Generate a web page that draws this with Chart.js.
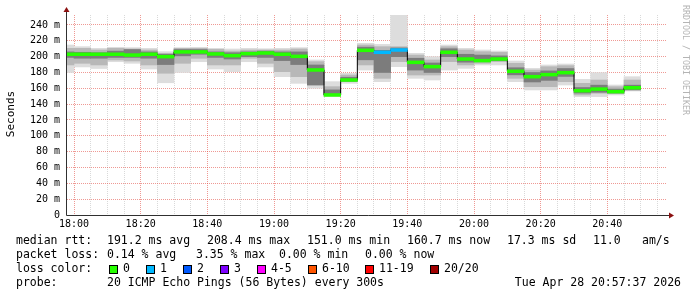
<!DOCTYPE html>
<html>
<head>
<meta charset="utf-8">
<script src="https://cdn.jsdelivr.net/npm/chart.js@4.4.1/dist/chart.umd.min.js"></script>
<style>
  html, body { margin: 0; padding: 0; background: #fff; }
</style>
</head>
<body>
<canvas id="smoke" width="697" height="297"></canvas>
<script>
// 5 minute steps (start time of each step), values in ms
const stepTimes = ['17:55', '18:00', '18:05', '18:10', '18:15', '18:20', '18:25', '18:30', '18:35', '18:40',
  '18:45', '18:50', '18:55', '19:00', '19:05', '19:10', '19:15', '19:20', '19:25', '19:30',
  '19:35', '19:40', '19:45', '19:50', '19:55', '20:00', '20:05', '20:10', '20:15', '20:20',
  '20:25', '20:30', '20:35', '20:40', '20:45'];
const medianMs = [203, 203, 203, 203, 202, 203, 200, 206, 206, 203.4,
  201.3, 203.8, 204.6, 203, 200.4, 183.2, 151.6, 170.5, 208, 205.5,
  208.4, 192.8, 187.4, 205.5, 197, 195, 197, 181.5, 174.7, 177.3,
  179.8, 157, 159, 155.8, 160.7];
const maxMs = [214.7, 212.6, 210.5, 211.8, 211.4, 210.5, 206.3, 211.4, 211.8, 210.5,
  209.7, 210.5, 210, 210.5, 211.4, 195.8, 168.4, 178.9, 216.8, 215.5,
  258, 204.2, 200, 214.7, 210.5, 208.4, 207.1, 194.5, 185.2, 189.5,
  190.7, 171.3, 179.8, 164.2, 174.7];
const hiMs = [210.5, 210.5, 208.4, 210.5, 209.7, 208.4, 204.2, 210.5, 210.5, 209.2,
  207.1, 208.4, 208.4, 208.4, 209.7, 193.7, 162.1, 176.8, 214.7, 212.6,
  212.6, 202, 195.8, 212.6, 208.4, 206.3, 205.4, 191.6, 183.1, 187.3,
  188.6, 166.3, 170.5, 162.1, 170.5];
const coreHiMs = [206, 205.5, 205, 207, 209, 206, 203, 209, 209, 206,
  205, 206, 207, 206, 206, 189.5, 158, 174, 212, 208,
  211, 198, 192, 210, 203, 202, 201, 186, 180, 182,
  185, 161, 164, 159, 164];
const coreLoMs = [199, 198, 198, 199, 199, 198, 190, 201, 203, 199,
  197, 200, 199, 195, 190, 164.2, 151, 169, 196, 180,
  200, 183, 180, 200, 193, 194, 195, 177, 168, 170,
  175, 154, 155, 154, 158];
const loMs = [189.5, 191.6, 189.5, 195.8, 194.5, 189.5, 179, 191.6, 197.9, 189.5,
  189.5, 197.9, 191.6, 181, 174.7, 164.2, 151.6, 168.4, 189.5, 172.6,
  193.7, 176.8, 176.8, 193.7, 189.5, 191.6, 193.7, 172.6, 162.1, 162.1,
  168.4, 151.6, 153.7, 153.7, 157.9];
const minMs = [180, 187, 185, 193.6, 191.6, 184.4, 167, 180, 193.6, 184.4,
  181, 193.6, 187, 174.7, 166.3, 160, 149.5, 166.3, 183.1, 168.4,
  187.3, 172.6, 170.5, 183.1, 185.2, 189.5, 189.5, 168.4, 157.9, 157.9,
  164.2, 149.5, 149.5, 151.6, 156.6];
// lost pings out of 20 per step
const lostPings = [0, 0, 0, 0, 0, 0, 0, 0, 0, 0,
  0, 0, 0, 0, 0, 0, 0, 0, 0, 1,
  1, 0, 0, 0, 0, 0, 0, 0, 0, 0,
  0, 0, 0, 0, 0];

const xTickLabels = ['18:00', '18:20', '18:40', '19:00', '19:20', '19:40', '20:00', '20:20', '20:40'];
const lossLabels = ['0', '1', '2', '3', '4-5', '6-10', '11-19', '20/20'];
const lossColors = ['#26ff00', '#00b8ff', '#0059ff', '#7e00ff', '#ff00ff', '#ff5500', '#ff0000', '#a10000'];

const X_MIN = -2.1, X_MAX = 177.9;   // minutes after 18:00
const Y_MAX = 252.6;
const MEDIAN_HALF = 1.8;
const MONO = '"DejaVu Sans Mono", monospace';

const toMin = t => { const [h, m] = t.split(':').map(Number); return (h - 18) * 60 + m; };
const stepMid = stepTimes.map(t => toMin(t) + 2.5);
const lossColor = n => lossColors[n === 0 ? 0 : n === 1 ? 1 : n === 2 ? 2 : n === 3 ? 3 : n <= 5 ? 4 : n <= 10 ? 5 : n < 20 ? 6 : 7];

function band(lo, hi, color, order) {
  return {
    type: 'bar',
    data: stepMid.map((x, i) => ({ x: x, y: [lo[i], hi[i]] })),
    backgroundColor: color,
    borderWidth: 0,
    grouped: false,
    barPercentage: 1,
    categoryPercentage: 1,
    order: order
  };
}

const datasets = [
  band(minMs, maxMs, '#dddddd', 10),
  band(loMs, hiMs, '#b8b8b8', 9),
  band(coreLoMs, coreHiMs, '#7c7c7c', 8),
  {
    type: 'line',
    data: stepMid.map((x, i) => ({ x: x, y: medianMs[i] })),
    stepped: 'middle',
    borderColor: '#000',
    borderWidth: 1,
    pointRadius: 0,
    fill: false,
    order: 2
  },
  {
    type: 'bar',
    data: stepMid.map((x, i) => ({ x: x, y: [medianMs[i] - MEDIAN_HALF, medianMs[i] + MEDIAN_HALF] })),
    backgroundColor: lostPings.map(lossColor),
    borderWidth: 0,
    grouped: false,
    barPercentage: 1,
    categoryPercentage: 1,
    order: 1
  }
];

const minorGrid = 'rgba(160,160,160,0.4)';
const majorGrid = 'rgba(225,70,60,0.55)';

const legendLines = [
  [['median rtt:', 16], ['191.2 ms avg', 107], ['208.4 ms max', 207], ['151.0 ms min', 307],
   ['160.7 ms now', 407], ['17.3 ms sd', 507], ['11.0', 593], ['am/s', 642]],
  [['packet loss:', 16], ['0.14 % avg', 107], ['3.35 % max', 196], ['0.00 % min', 279], ['0.00 % now', 365]],
  [['loss color:', 16]],
  [['probe:', 16], ['20 ICMP Echo Pings (56 Bytes) every 300s', 107]]
];
const lossBoxX = [109, 146, 183, 220, 257, 308, 365, 430];

const decorations = {
  id: 'decorations',
  afterDraw(chart) {
    const ctx = chart.ctx;
    const a = chart.chartArea;
    ctx.save();
    // axes + arrows
    ctx.strokeStyle = '#303030';
    ctx.lineWidth = 1;
    ctx.beginPath();
    ctx.moveTo(a.left - 0.5, a.bottom + 0.5);
    ctx.lineTo(a.right + 3, a.bottom + 0.5);
    ctx.moveTo(a.left - 0.5, a.bottom + 0.5);
    ctx.lineTo(a.left - 0.5, a.top - 4);
    ctx.stroke();
    ctx.fillStyle = '#8b1010';
    ctx.beginPath();
    ctx.moveTo(a.right + 7, a.bottom + 0.5);
    ctx.lineTo(a.right + 2, a.bottom - 2.5);
    ctx.lineTo(a.right + 2, a.bottom + 3.5);
    ctx.closePath();
    ctx.fill();
    ctx.beginPath();
    ctx.moveTo(a.left - 0.5, a.top - 8);
    ctx.lineTo(a.left - 3.5, a.top - 3);
    ctx.lineTo(a.left + 2.5, a.top - 3);
    ctx.closePath();
    ctx.fill();

    // y axis title
    ctx.fillStyle = '#000';
    ctx.font = '11px ' + MONO;
    ctx.textAlign = 'center';
    ctx.textBaseline = 'middle';
    ctx.save();
    ctx.translate(11, 114);
    ctx.rotate(-Math.PI / 2);
    ctx.fillText('Seconds', 0, 0);
    ctx.restore();

    // watermark
    ctx.save();
    ctx.fillStyle = '#b4b4b4';
    ctx.font = '8.3px ' + MONO;
    ctx.textAlign = 'left';
    ctx.translate(685, 5);
    ctx.rotate(Math.PI / 2);
    ctx.fillText('RRDTOOL / TOBI OETIKER', 0, 0);
    ctx.restore();

    // legend text
    ctx.font = '11.5px ' + MONO;
    ctx.textAlign = 'left';
    ctx.textBaseline = 'middle';
    ctx.fillStyle = '#000';
    const rows = [241, 255, 269, 283];
    legendLines.forEach((line, r) => {
      line.forEach(([txt, x]) => ctx.fillText(txt, x, rows[r]));
    });
    lossColors.forEach((c, i) => {
      const x = lossBoxX[i];
      ctx.fillStyle = c;
      ctx.fillRect(x, 265, 8, 8);
      ctx.strokeStyle = '#000';
      ctx.strokeRect(x + 0.5, 265.5, 8, 8);
      ctx.fillStyle = '#000';
      ctx.fillText(lossLabels[i], x + 14, rows[2]);
    });
    ctx.textAlign = 'right';
    ctx.fillText('Tue Apr 28 20:57:37 2026', 681, rows[3]);
    ctx.restore();
  }
};

new Chart(document.getElementById('smoke'), {
  type: 'bar',
  data: { datasets: datasets },
  options: {
    responsive: false,
    animation: false,
    devicePixelRatio: 1,
    layout: { padding: { left: 0, right: 30, top: 15, bottom: 62 } },
    plugins: { legend: { display: false }, tooltip: { enabled: false } },
    scales: {
      x: {
        type: 'linear',
        min: X_MIN,
        max: X_MAX,
        offset: false,
        z: 1,
        afterFit: s => { s.height = 20; },
        afterBuildTicks: s => {
          const t = [];
          for (let v = 0; v <= X_MAX; v += 5) t.push({ value: v });
          s.ticks = t;
        },
        grid: {
          offset: false,
          drawTicks: false,
          color: c => (c.tick && c.tick.value % 20 === 0) ? majorGrid : minorGrid
        },
        border: { display: false, dash: [1, 1] },
        ticks: {
          autoSkip: false,
          maxRotation: 0,
          padding: 3,
          color: '#000',
          font: { family: MONO, size: 10 },
          callback: v => v % 20 === 0 ? xTickLabels[v / 20] : ''
        }
      },
      y: {
        type: 'linear',
        min: 0,
        max: Y_MAX,
        z: 1,
        afterFit: s => { s.width = 67; },
        grid: {
          drawTicks: false,
          color: c => {
            const v = c.tick ? c.tick.value : 1;
            if (v === 0) return 'rgba(0,0,0,0)';
            if (Math.abs(v % 10) > 0.01) return 'rgba(0,0,0,0)';
            return v % 20 === 0 ? majorGrid : minorGrid;
          }
        },
        border: { display: false, dash: [1, 1] },
        ticks: {
          stepSize: 10,
          padding: 7,
          color: '#000',
          font: { family: MONO, size: 10 },
          callback: v => (v % 20 !== 0) ? '' : (v === 0 ? '0' : v + ' m')
        }
      }
    }
  },
  plugins: [decorations]
});
</script>
</body>
</html>
